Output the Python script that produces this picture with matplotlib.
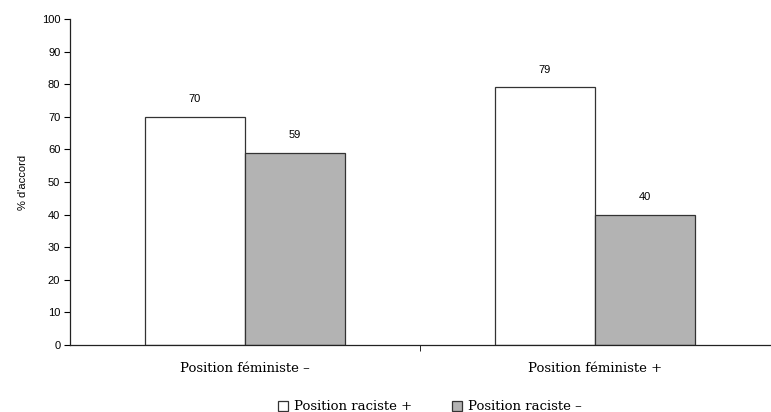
import matplotlib
matplotlib.use("Agg")
import matplotlib.pyplot as plt
import numpy as np

# agreement (%) by feminist position, split by racist position
categories = ["Position féministe –", "Position féministe +"]
series_names = ["Position raciste +", "Position raciste –"]
raciste_plus = [70, 79]
raciste_moins = [59, 40]
yticks = list(range(0, 101, 10))

serif = ["DejaVu Serif"]
sans = ["Liberation Sans"]

fig = plt.figure(figsize=(7.71, 4.12), dpi=100)
ax = fig.add_axes([70 / 771, 67 / 412, 700 / 771, 326 / 412])

x = np.arange(len(categories))
w = 0.286
b1 = ax.bar(x - w / 2, raciste_plus, w, color="white", edgecolor="#333333",
            linewidth=0.9, label=series_names[0])
b2 = ax.bar(x + w / 2, raciste_moins, w, color="#b3b3b3", edgecolor="#333333",
            linewidth=0.9, label=series_names[1])

for bars, vals in [(b1, raciste_plus), (b2, raciste_moins)]:
    for rect, v in zip(bars, vals):
        ax.annotate(str(v), (rect.get_x() + rect.get_width() / 2, v),
                    xytext=(0, 9), textcoords="offset points",
                    ha="center", va="bottom", fontsize=8, family=sans)

ax.set_xlim(-0.5, 1.5)
ax.set_ylim(0, 100)
ax.set_yticks(yticks)
ax.set_yticklabels([str(t) for t in yticks], fontsize=8, family=sans)
ax.set_xticks(x)
ax.set_xticklabels(categories, fontsize=9.5, family=serif)
ax.tick_params(axis="x", length=0, pad=12)
ax.set_xticks([0.5], minor=True)
ax.tick_params(axis="x", which="minor", length=4, direction="out")
ax.tick_params(axis="y", length=4, direction="out", pad=3)
ax.set_ylabel("% d'accord", fontsize=8, family=sans, labelpad=10)

for s in ["top", "right"]:
    ax.spines[s].set_visible(False)
for s in ["left", "bottom"]:
    ax.spines[s].set_linewidth(0.9)
    ax.spines[s].set_color("#222222")

fig.legend(handles=[b1, b2], labels=series_names, loc="center",
           bbox_to_anchor=(430 / 771, 1 - 407 / 412), ncol=2, frameon=False,
           prop={"family": serif, "size": 9.5},
           handlelength=0.75, handleheight=0.75, handletextpad=0.45,
           columnspacing=3.0)

fig.savefig("out.png", dpi=100)
